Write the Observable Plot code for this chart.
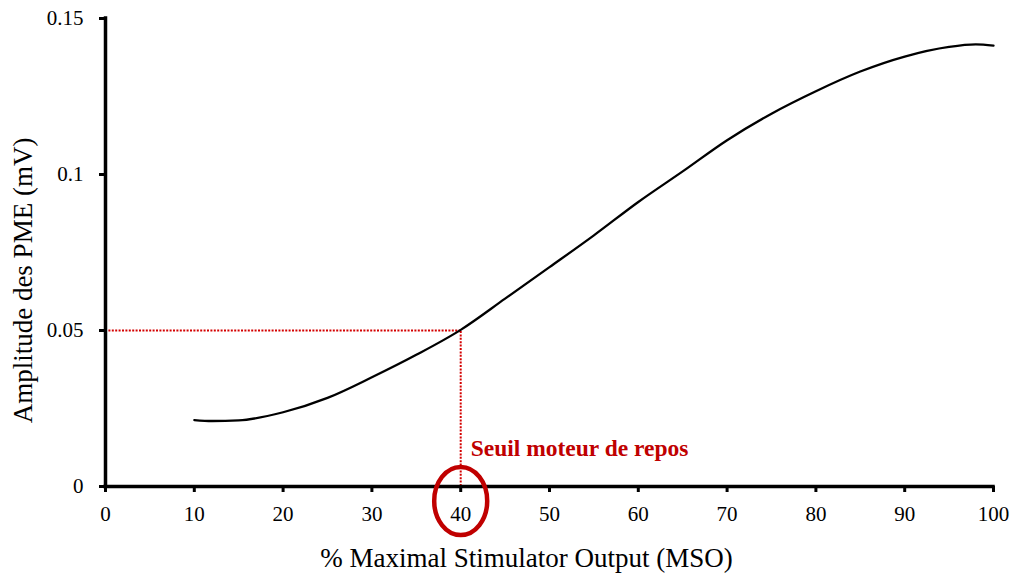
<!DOCTYPE html>
<html>
<head>
<meta charset="utf-8">
<script src="https://cdn.jsdelivr.net/npm/d3@7"></script>
<script src="https://cdn.jsdelivr.net/npm/@observablehq/plot@0.6"></script>
<style>
  html, body { margin: 0; padding: 0; background: #fff; }
</style>
</head>
<body>
<div id="chart"></div>
<script>
// ---- data ----
const msoValues = [10, 12, 15, 20, 25, 30, 35, 40, 45, 50, 55, 60, 65, 70, 75, 80, 85, 90, 95, 98, 100];
const amplitudeValues = [0.0213, 0.0210, 0.0212, 0.0238, 0.0284, 0.0350, 0.0422, 0.0502, 0.0602, 0.0703, 0.0805, 0.0912, 0.1010, 0.1110, 0.1195, 0.1267, 0.1330, 0.1378, 0.1409, 0.1417, 0.1413];
const xTicks = [0, 10, 20, 30, 40, 50, 60, 70, 80, 90, 100];
const yTicks = [0, 0.05, 0.1, 0.15];
const yTickLabels = ["0", "0.05", "0.1", "0.15"];
const thresholdX = 40;
const thresholdY = 0.05;
const thresholdLabel = "Seuil moteur de repos";
const xTitle = "% Maximal Stimulator Output (MSO)";
const yTitle = "Amplitude des PME (mV)";

const data = msoValues.map((x, i) => ({x, y: amplitudeValues[i]}));
const red = "#c00000";

const ellipse = {
  draw(ctx) {
    const rx = 26.5, ry = 34, k = 0.5523;
    ctx.moveTo(rx, 0);
    ctx.bezierCurveTo(rx, ry * k, rx * k, ry, 0, ry);
    ctx.bezierCurveTo(-rx * k, ry, -rx, ry * k, -rx, 0);
    ctx.bezierCurveTo(-rx, -ry * k, -rx * k, -ry, 0, -ry);
    ctx.bezierCurveTo(rx * k, -ry, rx, -ry * k, rx, 0);
    ctx.closePath();
  }
};

const chart = Plot.plot({
  width: 1014,
  height: 574,
  marginLeft: 105,
  marginRight: 21,
  marginTop: 18,
  marginBottom: 88,
  style: {fontFamily: "'Liberation Serif', 'Times New Roman', serif", fontSize: "21px", color: "#000", background: "#fff"},
  x: {domain: [0, 100]},
  y: {domain: [0, 0.15]},
  marks: [
    Plot.ruleY([thresholdY], {x1: 0, x2: thresholdX, stroke: "#d40000", strokeWidth: 2, strokeDasharray: "2,1.4"}),
    Plot.ruleX([thresholdX], {y1: 0, y2: thresholdY, stroke: "#d40000", strokeWidth: 2, strokeDasharray: "2,1.4"}),
    Plot.line(data, {x: "x", y: "y", curve: "monotone-x", stroke: "#000", strokeWidth: 2.3}),
    Plot.ruleX([0], {y1: 0, y2: 0.15, stroke: "#000", strokeWidth: 3.5, strokeLinecap: "square"}),
    Plot.ruleY([0], {x1: 0, x2: 100, stroke: "#000", strokeWidth: 3.5, strokeLinecap: "square"}),
    Plot.axisY({ticks: yTicks, tickFormat: (d, i) => yTickLabels[i], tickSize: 6, tickPadding: 16, strokeWidth: 3, label: null}),
    Plot.axisX({ticks: xTicks, tickFormat: d => String(d), tickSize: 6, tickPadding: 14, strokeWidth: 3, label: null}),
    Plot.text([yTitle], {frameAnchor: "left", textAnchor: "middle", lineAnchor: "middle", rotate: -90, dx: -82, dy: 28, fontSize: 27, fill: "#000"}),
    Plot.text([xTitle], {frameAnchor: "bottom", textAnchor: "middle", lineAnchor: "middle", dx: -23, dy: 72, fontSize: 27, fill: "#000"}),
    Plot.text([thresholdLabel], {x: thresholdX, y: 0, dx: 10, dy: -38, textAnchor: "start", fontSize: 23.5, fontWeight: "bold", fill: red}),
    Plot.dot([thresholdX], {x: d => d, y: () => 0, dy: 14.5, r: 30, symbol: ellipse, stroke: red, strokeWidth: 4.5, fill: "none"})
  ]
});
document.getElementById("chart").appendChild(chart);
</script>
</body>
</html>
